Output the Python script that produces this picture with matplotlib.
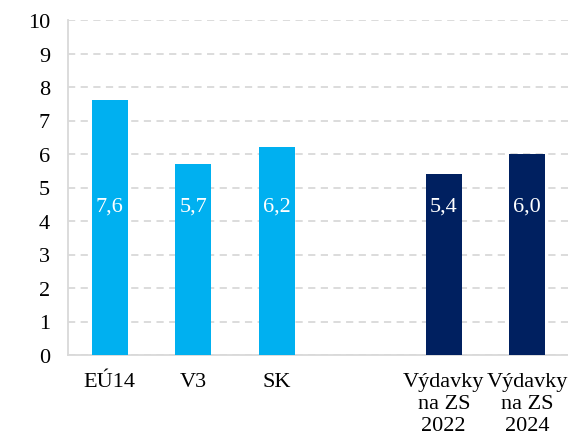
import matplotlib
matplotlib.use("Agg")
import matplotlib.pyplot as plt

# data
categories = ["EÚ14", "V3", "SK", "", "Výdavky\nna ZS\n2022", "Výdavky\nna ZS\n2024"]
values = [7.6, 5.7, 6.2, None, 5.4, 6.0]
labels = ["7,6", "5,7", "6,2", "", "5,4", "6,0"]
colors = ["#00B0F0", "#00B0F0", "#00B0F0", "none", "#002060", "#002060"]
label_y = 4.45

plt.rcParams['font.family'] = ['Liberation Serif', 'DejaVu Serif']

fig = plt.figure(figsize=(5.68, 4.39), dpi=100)
ax = fig.add_axes([68/568, 1 - 356/439, 501/568, 335/439])

pos = list(range(len(categories)))
for i, v in enumerate(values):
  if v is None:
    continue
  ax.bar(pos[i], v, width=0.43, color=colors[i], zorder=3)
  ax.text(pos[i], label_y, labels[i], ha='center', va='center',
          color='white', fontsize=16, zorder=4)

ax.set_xlim(-0.5, len(categories) - 0.5)
ax.set_ylim(0, 10)
ax.set_yticks(range(0, 11))
ax.set_xticks(pos)
ax.set_xticklabels(categories, fontsize=16, linespacing=1.22)
ax.tick_params(axis='y', labelsize=16, length=0, pad=13)
ax.tick_params(axis='x', length=0, pad=12)

ax.yaxis.grid(True, color='#D9D9D9', linestyle=(0, (4, 3)), linewidth=1.3, zorder=0)
ax.set_axisbelow(True)
for s in ['top', 'right']:
  ax.spines[s].set_visible(False)
for s in ['left', 'bottom']:
  ax.spines[s].set_color('#D9D9D9')
  ax.spines[s].set_linewidth(1.3)

fig.savefig('out.png', dpi=100)
